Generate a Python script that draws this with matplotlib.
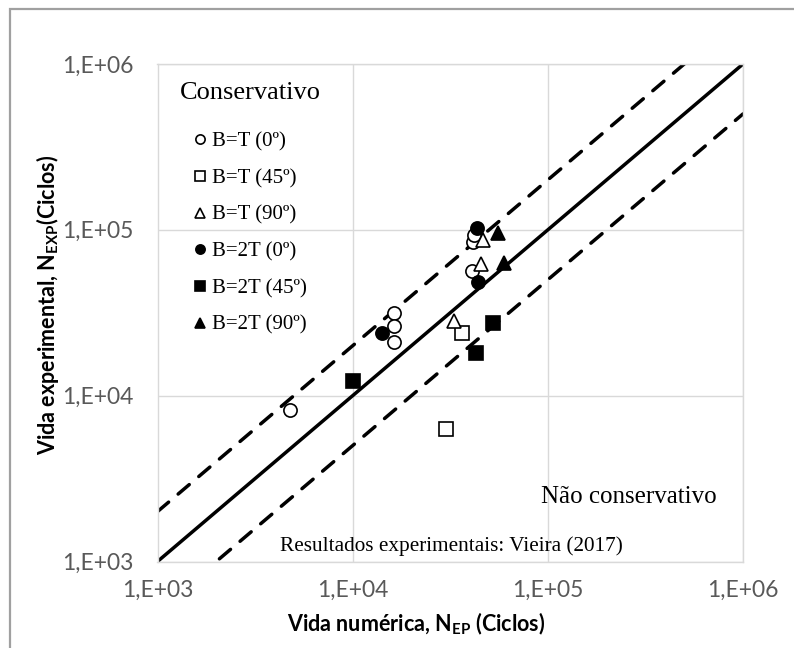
import numpy as np
import matplotlib
matplotlib.use('Agg')
import matplotlib.pyplot as plt
from matplotlib.patches import Rectangle

# data (cycles)
bt0_x = [4.8e3, 1.62e4, 1.62e4, 1.62e4, 4.1e4, 4.15e4, 4.2e4]
bt0_y = [8.2e3, 3.13e4, 2.62e4, 2.1e4, 5.66e4, 8.5e4, 9.3e4]
bt45_x = [2.99e4, 3.64e4]
bt45_y = [6.3e3, 2.4e4]
bt90_x = [3.3e4, 4.57e4, 4.67e4]
bt90_y = [2.82e4, 6.2e4, 8.7e4]
b2t0_x = [1.41e4, 4.41e4, 4.35e4]
b2t0_y = [2.4e4, 4.86e4, 1.03e5]
b2t45_x = [1.0e4, 4.28e4, 5.21e4]
b2t45_y = [1.22e4, 1.81e4, 2.75e4]
b2t90_x = [5.57e4, 5.98e4]
b2t90_y = [9.55e4, 6.29e4]

limits = [1e3, 1e6]
band_factor = 2.0
tick_vals = [1e3, 1e4, 1e5, 1e6]
tick_labels = ['1,E+03', '1,E+04', '1,E+05', '1,E+06']

sans = ['Lato', 'DejaVu Sans']
serif = ['Liberation Serif', 'DejaVu Serif']
plt.rcParams['mathtext.fontset'] = 'custom'
plt.rcParams['mathtext.bf'] = 'Lato:bold'
plt.rcParams['mathtext.rm'] = 'Lato'

W, H = 794, 648
fig = plt.figure(figsize=(W / 100, H / 100), dpi=100)
ax = fig.add_axes([157.5 / W, 1 - 561.5 / H, (743 - 157.5) / W, (561.5 - 64) / H])

ax.set_xscale('log')
ax.set_yscale('log')
ax.set_xlim(limits)
ax.set_ylim(limits)

grey = '#d9d9d9'
ax.grid(True, which='major', color=grey, lw=1.0)
ax.set_axisbelow(True)
for s in ax.spines.values():
    s.set_color(grey)
    s.set_linewidth(1.0)
ax.minorticks_off()
ax.tick_params(axis='x', length=0, pad=13.5, labelsize=16.5, labelcolor='#595959')
ax.tick_params(axis='y', length=0, pad=17.5, labelsize=16.5, labelcolor='#595959')
ax.set_xticks(tick_vals)
ax.set_xticklabels(tick_labels, family=sans)
ax.set_yticks(tick_vals)
ax.set_yticklabels(tick_labels, family=sans)

# 1:1 line and factor-of-2 band
lx = np.array(limits)
ax.plot(lx, lx, color='black', lw=2.5, solid_capstyle='round', zorder=2)
ax.plot(lx, lx * band_factor, color='black', lw=2.5, dashes=(4.2, 3.6),
        dash_capstyle='round', zorder=2)
ax.plot(lx, lx / band_factor, color='black', lw=2.5, dashes=(4.2, 3.6),
        dash_capstyle='round', zorder=2)

ms = 9.5
series = [
    (bt0_x, bt0_y, 'o', 'white', 'B=T (0º)'),
    (bt45_x, bt45_y, 's', 'white', 'B=T (45º)'),
    (bt90_x, bt90_y, '^', 'white', 'B=T (90º)'),
    (b2t0_x, b2t0_y, 'o', 'black', 'B=2T (0º)'),
    (b2t45_x, b2t45_y, 's', 'black', 'B=2T (45º)'),
    (b2t90_x, b2t90_y, '^', 'black', 'B=2T (90º)'),
]
handles = []
for xs, ys, mk, fc, lab in series:
    h, = ax.plot(xs, ys, ls='none', marker=mk, ms=ms, mfc=fc, mec='black',
                 mew=1.2, label=lab, zorder=3)
    handles.append(h)

leg = ax.legend(handles=handles, loc='upper left',
                bbox_to_anchor=(194 / W, 1 - 132 / H),
                bbox_transform=fig.transFigure, frameon=False,
                prop={'family': serif, 'size': 15}, markerscale=0.7,
                handlelength=0.6, handletextpad=0.25, labelspacing=0.82,
                borderpad=0, borderaxespad=0)

fig.text(180 / W, 1 - 93 / H, 'Conservativo', family=serif, fontsize=19,
         ha='left', va='center')
fig.text(717 / W, 1 - 497 / H, 'Não conservativo', family=serif,
         fontsize=18, ha='right', va='center')
fig.text(451 / W, 1 - 546 / H, 'Resultados experimentais: Vieira (2017)',
         family=serif, fontsize=15.3, ha='center', va='center')

fig.text(287 / W, 1 - 624 / H, 'Vida numérica, N$_{\\mathbf{EP}}$ (Ciclos)',
         family=sans, fontsize=15.5, fontweight='bold', ha='left',
         va='center')
fig.text(48 / W, 1 - 305 / H, 'Vida experimental, N$_{\\mathbf{EXP}}$(Ciclos)',
         family=sans, fontsize=15.5, fontweight='bold', ha='center',
         va='center', rotation=90)

# outer chart border (cut off at right and bottom in the reference)
fig.add_artist(Rectangle((10 / W, -0.1), 1.2, 1.1 - 9 / H,
                         transform=fig.transFigure, fill=False,
                         ec='#a0a0a0', lw=1.6))

fig.savefig('out.png', dpi=100)
